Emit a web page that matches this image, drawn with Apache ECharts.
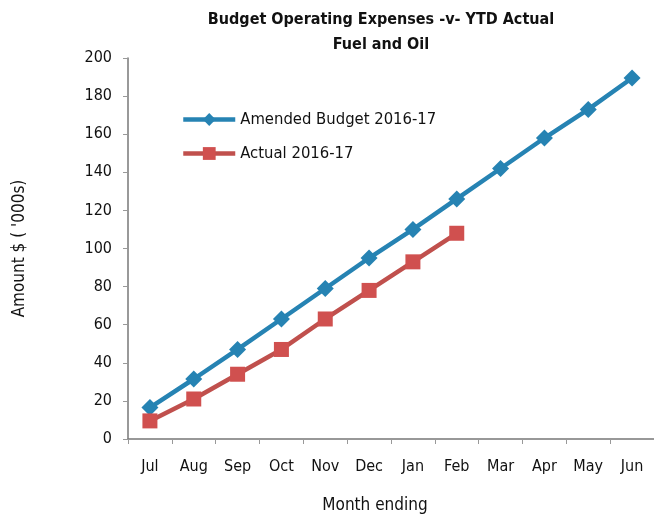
<!DOCTYPE html>
<html>
<head>
<meta charset="utf-8">
<script src="https://cdn.jsdelivr.net/npm/echarts@6/dist/echarts.min.js"></script>
<style>
  html, body { margin: 0; padding: 0; background: #fff; }
  #chart { width: 654px; height: 519px; }
</style>
</head>
<body>
<div id="chart"></div>
<script>
const months = ['Jul', 'Aug', 'Sep', 'Oct', 'Nov', 'Dec', 'Jan', 'Feb', 'Mar', 'Apr', 'May', 'Jun'];
const budget = [16.5, 31.5, 47, 63, 79, 95, 110, 126, 142, 158, 173, 189.5];
const actual = [9.5, 21, 34, 47, 63, 78, 93, 108];
const yTicks = [0, 20, 40, 60, 80, 100, 120, 140, 160, 180, 200];

const font = '"Liberation Sans Narrow", "DejaVu Sans Condensed", "Liberation Sans", sans-serif';
const blue = '#2683b3';
const red = '#d0504f';

const chart = echarts.init(document.getElementById('chart'));
chart.setOption({
    animation: false,
    backgroundColor: '#fff',
    textStyle: { fontFamily: font, color: '#111' },
    title: {
        text: 'Budget Operating Expenses -v- YTD Actual\nFuel and Oil',
        left: 376,
        textAlign: 'center',
        top: 2,
        textStyle: { fontSize: 16, fontWeight: 'bold', lineHeight: 25, fontFamily: font, color: '#111' }
    },
    legend: {
        orient: 'vertical',
        left: 176,
        top: 106,
        itemGap: 17,
        itemWidth: 52,
        itemHeight: 16,
        lineStyle: { width: 4.5 },
        textStyle: { fontSize: 16.5, fontFamily: font, color: '#111' },
        data: ['Amended Budget 2016-17', 'Actual 2016-17']
    },
    grid: { left: 128, right: -2, top: 58, bottom: 79 },
    xAxis: {
        type: 'category',
        data: months,
        boundaryGap: true,
        name: 'Month ending',
        nameLocation: 'middle',
        nameGap: 58,
        nameTextStyle: { fontSize: 17, fontFamily: font, color: '#111', padding: [0, 32, 0, 0] },
        axisLine: { lineStyle: { color: '#777', width: 1.5 } },
        axisTick: { show: true, length: 5, lineStyle: { color: '#999' } },
        axisLabel: { fontSize: 16, margin: 20, color: '#111', fontFamily: font }
    },
    yAxis: {
        type: 'value',
        min: yTicks[0],
        max: yTicks[yTicks.length - 1],
        interval: 20,
        name: "Amount $ ( '000s)",
        nameLocation: 'middle',
        nameGap: 100,
        nameTextStyle: { fontSize: 17, fontFamily: font, color: '#111' },
        splitLine: { show: false },
        axisLine: { show: true, lineStyle: { color: '#777', width: 1.5 } },
        axisTick: { show: true, length: 5, lineStyle: { color: '#999' } },
        axisLabel: { fontSize: 16, margin: 16, color: '#111', fontFamily: font }
    },
    series: [
        {
            name: 'Amended Budget 2016-17',
            type: 'line',
            data: budget,
            symbol: 'diamond',
            symbolSize: 17,
            lineStyle: { color: blue, width: 4.5 },
            itemStyle: { color: blue }
        },
        {
            name: 'Actual 2016-17',
            type: 'line',
            data: actual,
            symbol: 'rect',
            symbolSize: 15,
            lineStyle: { color: '#c0504d', width: 4.5 },
            itemStyle: { color: red }
        }
    ]
});
</script>
</body>
</html>
